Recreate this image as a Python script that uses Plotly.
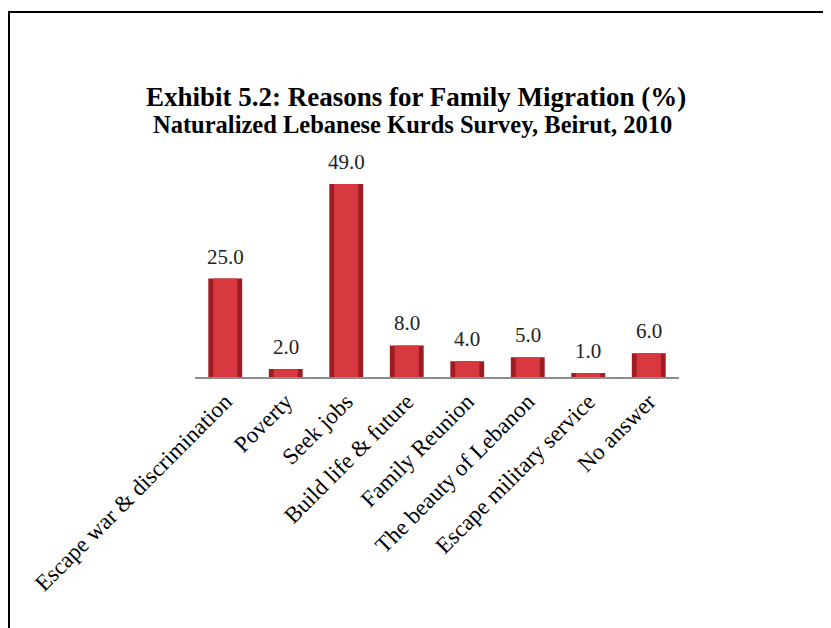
import plotly.graph_objects as go

categories = ["Escape war & discrimination", "Poverty", "Seek jobs", "Build life & future",
              "Family Reunion", "The beauty of Lebanon", "Escape military service", "No answer"]
values = [25.0, 2.0, 49.0, 8.0, 4.0, 5.0, 1.0, 6.0]
title_text = "Exhibit 5.2: Reasons for Family Migration (%)"
subtitle_text = "Naturalized Lebanese Kurds Survey, Beirut, 2010"

FONT = "Liberation Serif"
OFF = 8  # page body margin
W, H = 831 - OFF, 628 - OFF
L, R, T, B = 195 - OFF, 152, 180 - OFF, 251
pw, ph = W - L - R, H - T - B

def px_x(x):
    return (x - OFF - L) / pw

def px_y(y):
    return (H - B - (y - OFF)) / ph

fig = go.Figure()
fig.add_trace(go.Bar(x=categories, y=values, width=0.56,
                     marker=dict(color="#9e1c22", line=dict(width=0)),
                     hoverinfo="skip", showlegend=False))
fig.add_trace(go.Bar(x=categories, y=values, width=0.40,
                     marker=dict(color="#d8383f", line=dict(width=0)),
                     showlegend=False))

for c, v in zip(categories, values):
    fig.add_annotation(x=c, y=v, text=f"{v:.1f}", showarrow=False, yanchor="bottom",
                       yshift=8, font=dict(family=FONT, size=21, color="#222222"))

fig.add_annotation(xref="paper", yref="paper", x=px_x(416), y=px_y(97), text=f"<b>{title_text}</b>",
                   showarrow=False, xanchor="center", yanchor="middle",
                   font=dict(family=FONT, size=27, color="#000000"))
fig.add_annotation(xref="paper", yref="paper", x=px_x(412), y=px_y(124), text=f"<b>{subtitle_text}</b>",
                   showarrow=False, xanchor="center", yanchor="middle",
                   font=dict(family=FONT, size=24.5, color="#000000"))

fig.add_shape(type="rect", xref="paper", yref="paper",
              x0=px_x(9), x1=px_x(845), y0=px_y(645), y1=px_y(12),
              line=dict(color="#000000", width=2), fillcolor="rgba(0,0,0,0)", layer="below")

fig.update_layout(
    width=W, height=H,
    margin=dict(l=L, r=R, t=T, b=B, pad=0),
    barmode="overlay",
    paper_bgcolor="white", plot_bgcolor="white",
    font=dict(family=FONT, color="#000000"),
    xaxis=dict(tickangle=-45, tickfont=dict(family=FONT, size=23, color="#000000"),
               showline=True, linecolor="#8c8c8c", linewidth=2, ticks="", showgrid=False,
               range=[-0.5, 7.5]),
    yaxis=dict(range=[0, 50], visible=False, showgrid=False, zeroline=False),
)

fig.write_html("out.html")
